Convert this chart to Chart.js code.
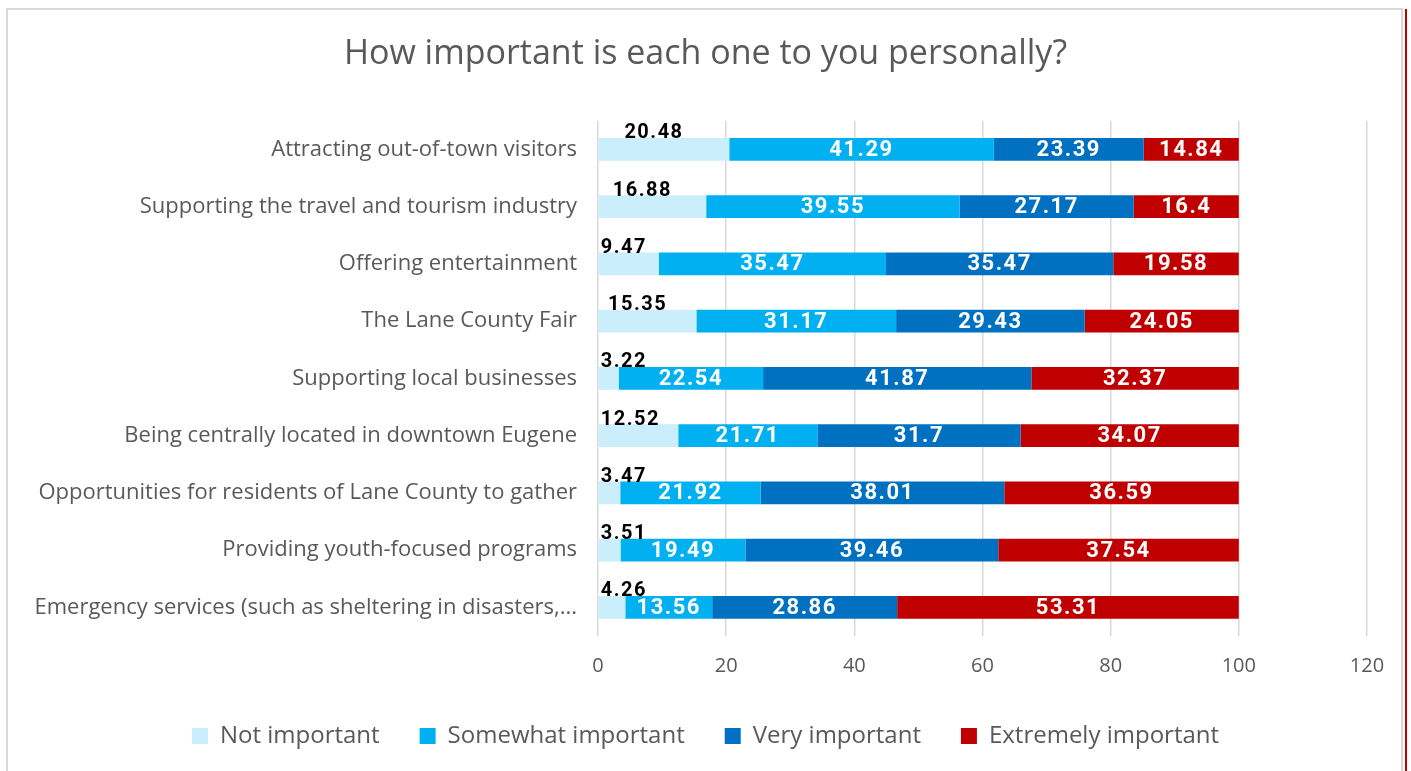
<!DOCTYPE html>
<html>
<head>
<meta charset="utf-8">
<script src="https://cdn.jsdelivr.net/npm/chart.js@4.4.1/dist/chart.umd.min.js"></script>
<style>
  html, body { margin: 0; padding: 0; background: #fff; overflow: hidden; }
  #wrap { position: absolute; left: 0; top: 0; width: 1411px; height: 771px; }
  #frame { position: absolute; left: 6px; top: 8px; width: 1397px; height: 780px;
           border: 2px solid #d9d9d9; box-sizing: border-box; pointer-events: none; }
  #redline { position: absolute; left: 1405px; top: 9px; width: 2px; height: 770px; background: #c00000; }
</style>
</head>
<body>
<div id="wrap">
  <canvas id="c" width="1411" height="771"></canvas>
  <div id="frame"></div>
  <div id="redline"></div>
</div>
<script>
const categories = [
  "Attracting out-of-town visitors",
  "Supporting the travel and tourism industry",
  "Offering entertainment",
  "The Lane County Fair",
  "Supporting local businesses",
  "Being centrally located in downtown Eugene",
  "Opportunities for residents of Lane County to gather",
  "Providing youth-focused programs",
  "Emergency services (such as sheltering in disasters,..."
];
const notImportant       = [20.48, 16.88, 9.47, 15.35, 3.22, 12.52, 3.47, 3.51, 4.26];
const somewhatImportant  = [41.29, 39.55, 35.47, 31.17, 22.54, 21.71, 21.92, 19.49, 13.56];
const veryImportant      = [23.39, 27.17, 35.47, 29.43, 41.87, 31.7, 38.01, 39.46, 28.86];
const extremelyImportant = [14.84, 16.4, 19.58, 24.05, 32.37, 34.07, 36.59, 37.54, 53.31];
const seriesNames = ["Not important", "Somewhat important", "Very important", "Extremely important"];
const seriesColors = ["#CAEEFB", "#00B0F0", "#0070C0", "#C00000"];
const xTicks = [0, 20, 40, 60, 80, 100, 120];

const labelPlugin = {
  id: 'barLabels',
  afterLayout(chart) {
    // let the long category labels extend into the left padding without clipping
    chart.scales.y.left = 0;
  },
  afterDatasetsDraw(chart) {
    const ctx = chart.ctx;
    ctx.save();
    ctx.textBaseline = 'middle';
    ctx.textAlign = 'center';
    chart.data.datasets.forEach((ds, i) => {
      const meta = chart.getDatasetMeta(i);
      if (meta.hidden) return;
      meta.data.forEach((el, j) => {
        const txt = String(ds.data[j]);
        const x0 = Math.min(el.x, el.base), x1 = Math.max(el.x, el.base);
        const cx = (x0 + x1) / 2;
        if (i === 0) {
          ctx.font = 'bold 20px Roboto';
          ctx.letterSpacing = '1.5px';
          ctx.fillStyle = '#000000';
          const w = ctx.measureText(txt).width;
          const x = Math.max(cx - 10, x0 + w / 2 + 2);
          ctx.fillText(txt, x, el.y - 16);
        } else {
          ctx.font = 'bold 22px Roboto';
          ctx.letterSpacing = '1.5px';
          ctx.fillStyle = '#ffffff';
          ctx.fillText(txt, cx, el.y + 1);
        }
      });
    });
    ctx.restore();
  }
};

const seriesData = [notImportant, somewhatImportant, veryImportant, extremelyImportant];

new Chart(document.getElementById('c'), {
  type: 'bar',
  data: {
    labels: categories,
    datasets: seriesNames.map((n, i) => ({
      label: n,
      data: seriesData[i],
      backgroundColor: seriesColors[i],
      borderWidth: 0,
      categoryPercentage: 1,
      barPercentage: 0.4
    }))
  },
  options: {
    indexAxis: 'y',
    responsive: false,
    animation: false,
    layout: { padding: { left: 44, right: 44, top: 0, bottom: 13 } },
    plugins: {
      title: {
        display: true,
        text: 'How important is each one to you personally?',
        color: '#595959',
        font: { family: 'Open Sans', size: 34, weight: 'normal', lineHeight: 1.2 },
        padding: { top: 34, bottom: 46 }
      },
      legend: {
        position: 'bottom',
        labels: {
          boxWidth: 16, boxHeight: 16, padding: 40,
          color: '#595959',
          font: { family: 'Open Sans', size: 24 }
        }
      },
      tooltip: { enabled: false }
    },
    scales: {
      x: {
        stacked: true,
        min: 0, max: 120,
        afterBuildTicks(scale) { scale.ticks = xTicks.map(v => ({ value: v })); },
        afterFit(scale) { scale.height = 48; },
        ticks: { color: '#595959', font: { family: 'Open Sans', size: 20 }, padding: 18 },
        grid: { color: '#d9d9d9', lineWidth: 1.5, drawTicks: false },
        border: { display: false }
      },
      y: {
        stacked: true,
        afterFit(scale) { scale.width = 554; },
        ticks: { color: '#595959', font: { family: 'Open Sans', size: 22 }, padding: 21 },
        grid: { display: false, drawTicks: false },
        border: { display: false }
      }
    }
  },
  plugins: [labelPlugin]
});
</script>
</body>
</html>
